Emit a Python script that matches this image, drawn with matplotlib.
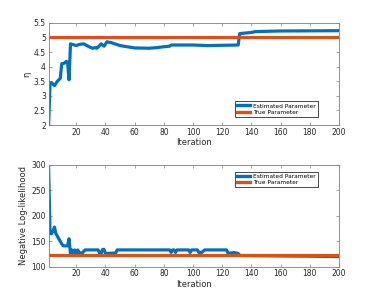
import matplotlib
matplotlib.use('Agg')
import matplotlib.pyplot as plt

# estimated eta per iteration
eta_iter = [1, 2, 3, 5, 7, 9, 10, 12, 13, 14, 15, 16, 18, 20, 22, 25, 28, 31, 33, 34, 36, 37, 39, 41, 44,
            50, 55, 60, 70, 75, 80, 84, 85, 100, 110, 120, 131, 132, 140, 143, 160, 200]
eta_est = [2.0, 3.45, 3.45, 3.35, 3.5, 3.6, 4.1, 4.12, 4.18, 4.15, 3.55, 4.78, 4.75, 4.72, 4.76, 4.78, 4.7,
           4.63, 4.65, 4.63, 4.72, 4.78, 4.7, 4.85, 4.82, 4.72, 4.68, 4.64, 4.63, 4.65, 4.68, 4.7, 4.74,
           4.74, 4.72, 4.73, 4.74, 5.13, 5.17, 5.2, 5.22, 5.23]
eta_true = 5.0

# negative log-likelihood per iteration
nll_iter = [1, 2, 3, 4, 5, 6, 8, 10, 11, 14, 15, 16, 17, 18, 19, 20, 21, 22, 24, 26, 35, 36, 37, 38, 39,
            40, 47, 48, 84, 85, 86, 87, 88, 89, 97, 98, 99, 103, 104, 106, 108, 123, 124, 127, 128, 131,
            132, 200]
nll_est = [295, 165, 165, 170, 178, 165, 155, 145, 141, 141, 155, 125, 133, 127, 133, 127, 133, 127, 127,
           133, 133, 126, 126, 134, 134, 126, 127, 133, 133, 128, 133, 133, 128, 133, 133, 128, 133, 133,
           128, 128, 133, 133, 127, 127, 128, 126, 122, 120]
nll_true = 122.5

blue = '#0072BD'
orange = '#D95319'
grey = '#262626'

plt.rcParams['font.size'] = 5.5
plt.rcParams['axes.edgecolor'] = '#808080'
plt.rcParams['axes.linewidth'] = 0.6

fig = plt.figure(figsize=(3.74, 3.0), dpi=100)
ax1 = fig.add_axes([0.130, 0.583, 0.776, 0.341])
ax2 = fig.add_axes([0.130, 0.111, 0.776, 0.339])

def style(ax, ylabel):
    ax.set_xlim(1, 200)
    ax.set_xticks(range(20, 201, 20))
    ax.tick_params(direction='in', top=True, right=True, length=2.5, width=0.5,
                   labelsize=5.5, colors='#808080', labelcolor=grey, pad=2)
    ax.set_xlabel('Iteration', fontsize=6, color=grey, labelpad=1)
    ax.set_ylabel(ylabel, fontsize=6, color=grey, labelpad=2)

def legend(ax, loc, anchor):
    leg = ax.legend(loc=loc, fontsize=4.2, fancybox=False, edgecolor='black',
                    framealpha=1, handlelength=2.2, handletextpad=0.6, borderpad=0.35,
                    labelspacing=0.25, borderaxespad=0, bbox_to_anchor=anchor)
    leg.get_frame().set_linewidth(0.5)
    for line in leg.get_lines():
        line.set_linewidth(2.4)
    return leg

ax1.plot(eta_iter, eta_est, color=blue, lw=2.3, label='Estimated Parameter')
ax1.plot([1, 200], [eta_true, eta_true], color=orange, lw=2.3, label='True Parameter')
ax1.set_ylim(2, 5.5)
ax1.set_yticks([2, 2.5, 3, 3.5, 4, 4.5, 5, 5.5])
ax1.set_yticklabels(['2', '2.5', '3', '3.5', '4', '4.5', '5', '5.5'])
style(ax1, 'η')
legend(ax1, 'lower right', (0.928, 0.078))

ax2.plot(nll_iter, nll_est, color=blue, lw=2.3, label='Estimated Parameter')
ax2.plot([1, 200], [nll_true, nll_true], color=orange, lw=2.3, label='True Parameter')
ax2.set_ylim(100, 300)
ax2.set_yticks(range(100, 301, 50))
style(ax2, 'Negative Log-likelihood')
legend(ax2, 'upper right', (0.928, 0.934))

fig.savefig('out.png', dpi=100)
